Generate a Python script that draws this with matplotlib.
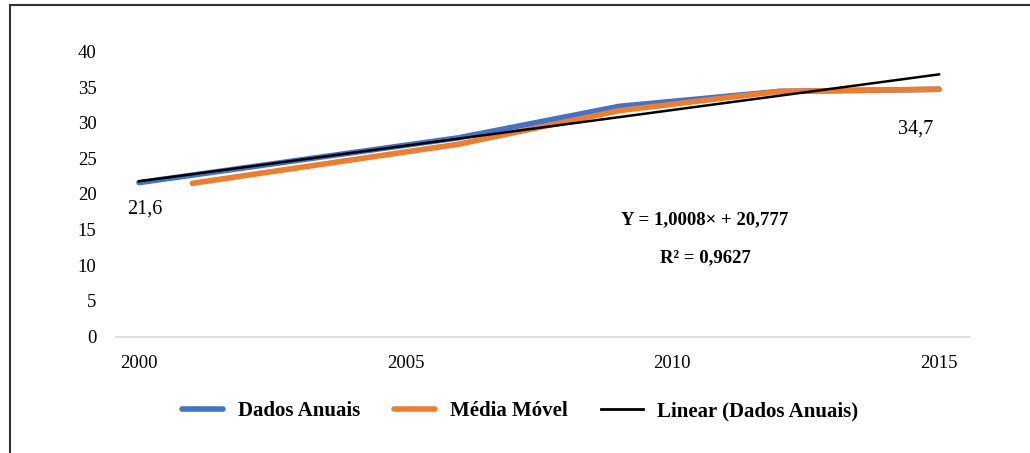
import matplotlib
matplotlib.use("Agg")
import matplotlib.pyplot as plt
from matplotlib.lines import Line2D
from matplotlib.font_manager import FontProperties
import numpy as np

plt.rcParams['font.family'] = ['Liberation Serif', 'DejaVu Serif']

years_anual = [2000, 2006, 2009, 2012, 2015]
dados_anuais = [21.6, 27.9, 32.3, 34.4, 34.7]
years_media = [2001, 2006, 2009, 2012, 2015]
media_movel = [21.5, 27.0, 31.7, 34.4, 34.7]
trend_slope = 1.0008
trend_intercept = 20.777
yticks = [0, 5, 10, 15, 20, 25, 30, 35, 40]
xticks = [2000, 2005, 2010, 2015]

W, H = 1030, 453
fig = plt.figure(figsize=(W/100, H/100), dpi=100)
ax = fig.add_axes([116/W, 1-336.5/H, (970-116)/W, (336.5-51.5)/H])

blue = '#4472C4'
orange = '#ED7D31'

ax.plot(years_anual, dados_anuais, color=blue, lw=4, solid_capstyle='round', zorder=3)
ax.plot(years_media, media_movel, color=orange, lw=4, solid_capstyle='round', zorder=4)
tx = np.array([2000, 2015])
ty = trend_intercept + trend_slope * (tx - 1999)
ax.plot(tx, ty, color='black', lw=1.8, zorder=5)

ax.set_xlim(1999.57, 2015.58)
ax.set_ylim(0, 40)
ax.set_xticks(xticks)
ax.set_yticks(yticks)
ax.tick_params(length=0, labelsize=13.5)
ax.tick_params(axis='y', pad=14)
ax.tick_params(axis='x', pad=13)
for s in ['top', 'right', 'left']:
    ax.spines[s].set_visible(False)
ax.spines['bottom'].set_color('#d9d9d9')
ax.spines['bottom'].set_linewidth(1.2)

ax.annotate('21,6', (years_anual[0], dados_anuais[0]), xytext=(4, -19),
            textcoords='offset points', ha='center', va='center', fontsize=14.5)
ax.annotate('34,7', (years_anual[-1], dados_anuais[-1]), xytext=(-17, -29),
            textcoords='offset points', ha='center', va='center', fontsize=14.5)

fig.text(705/W, 1-220/H, 'Y = 1,0008× + 20,777', ha='center', va='center',
         fontsize=13.5, fontweight='bold')
fig.text(705/W, 1-258/H, 'R² = 0,9627', ha='center', va='center',
         fontsize=13.5, fontweight='bold')

handles = [Line2D([], [], color=blue, lw=4, solid_capstyle='round'),
           Line2D([], [], color=orange, lw=4, solid_capstyle='round'),
           Line2D([], [], color='black', lw=2)]
legend_font = FontProperties(family=['Liberation Serif', 'DejaVu Serif'], size=15, weight='bold')
fig.legend(handles, ['Dados Anuais', 'Média Móvel', 'Linear (Dados Anuais)'],
           loc='center', bbox_to_anchor=(520/W, 1-411/H), ncol=3, frameon=False,
           prop=legend_font, handlelength=2.0, columnspacing=1.6,
           handletextpad=0.7)

fig.add_artist(Line2D([10/W, 10/W], [0, 1-5/H], color='#333333', lw=1.5, transform=fig.transFigure))
fig.add_artist(Line2D([10/W, 1], [1-5/H, 1-5/H], color='#333333', lw=1.5, transform=fig.transFigure))

fig.savefig('out.png', dpi=100)
